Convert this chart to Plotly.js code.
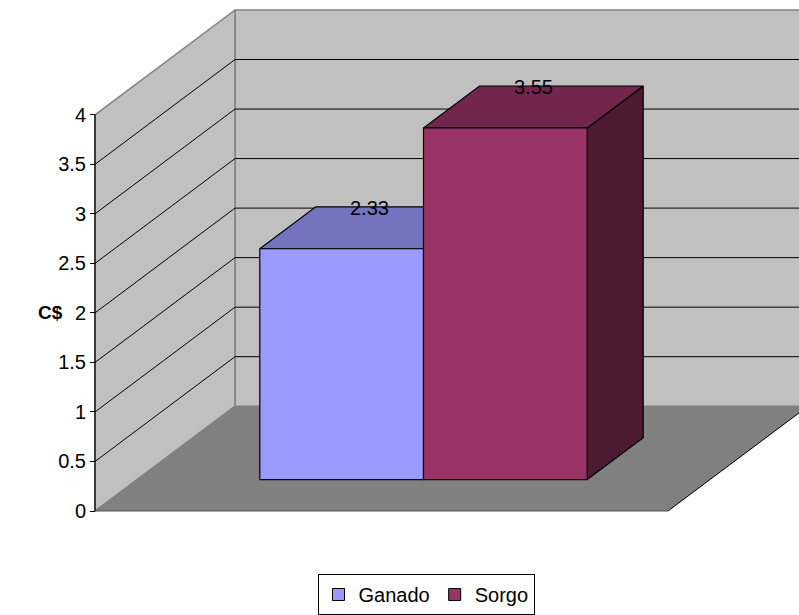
<!DOCTYPE html>
<html><head><meta charset="utf-8">
<script src="https://cdn.plot.ly/plotly-3.0.1.min.js"></script>
<style>html,body{margin:0;padding:0;background:#fff}</style>
</head><body><div id="chart" style="width:799px;height:615px"></div>
<script>
// ---- data ----
const categories = [""];
const seriesNames = ["Ganado", "Sorgo"];
const seriesValues = [2.33, 3.55];
const tickValues = [0, 0.5, 1, 1.5, 2, 2.5, 3, 3.5, 4];
const tickLabels = ["0", "0.5", "1", "1.5", "2", "2.5", "3", "3.5", "4"];
const yAxisTitle = "C$";

// ---- styles ----
const frontColors = ["#9999FF", "#993366"];
const topColors = ["#7373BF", "#73264D"];
const sideColors = ["#4D4D80", "#4D1A33"];
const FONT = "Liberation Sans, Arial, sans-serif";
const FS = 20;

// ---- oblique 3D geometry (x in px units, y in value units) ----
const PPU = 99.25;           // px per value unit
const W = 573;               // floor width in px
const DX = 140, DYpx = 105;  // depth offset in px
const DY = DYpx / PPU;
const GAP = 1.5;             // gap width (150%)
const F0 = 0.3, F1 = 0.7;    // bar depth span
const VMAX = tickValues[tickValues.length - 1];

function P(x, v, f) { return [x + f * DX, v + f * DY]; }
function poly(pts, fill, lineColor, lw) {
  const xs = pts.map(p => p[0]), ys = pts.map(p => p[1]);
  xs.push(xs[0]); ys.push(ys[0]);
  return {type: 'scatter', mode: 'lines', x: xs, y: ys, fill: 'toself', fillcolor: fill,
    line: {color: lineColor, width: lw}, hoverinfo: 'skip', showlegend: false};
}
function path(pts, color, lw) {
  return {type: 'scatter', mode: 'lines', x: pts.map(p => p[0]), y: pts.map(p => p[1]),
    line: {color: color, width: lw}, hoverinfo: 'skip', showlegend: false};
}

const traces = [];
// back wall
traces.push(poly([P(0, 0, 1), P(W, 0, 1), P(W, VMAX, 1), P(0, VMAX, 1)], "#C0C0C0", "#808080", 1.5));
// left wall
traces.push(poly([P(0, 0, 0), P(0, 0, 1), P(0, VMAX, 1), P(0, VMAX, 0)], "#C0C0C0", "#808080", 1.5));
// floor
traces.push(poly([P(0, 0, 0), P(W, 0, 0), P(W, 0, 1), P(0, 0, 1)], "#808080", "rgba(0,0,0,0)", 0));
traces.push(path([P(0, 0, 0), P(W, 0, 0)], "#555555", 1.2));
traces.push(path([P(W, 0, 0), P(W, 0, 1)], "#000000", 1));
// gridlines
tickValues.forEach(v => {
  if (v <= 0 || v >= VMAX) return;
  traces.push(path([P(0, v, 0), P(0, v, 1), P(W, v, 1)], "#000000", 1));
});
// front value axis
traces.push(path([P(0, 0, 0), P(0, VMAX, 0)], "#000000", 1.2));

// bars
const n = seriesValues.length;
const bw = W / (n + GAP);
const annotations = [];
seriesValues.forEach((v, i) => {
  const x0 = (GAP / 2 + i) * bw, x1 = x0 + bw;
  traces.push(poly([P(x1, 0, F0), P(x1, 0, F1), P(x1, v, F1), P(x1, v, F0)], sideColors[i], "#000000", 1.2));
  traces.push(poly([P(x0, v, F0), P(x1, v, F0), P(x1, v, F1), P(x0, v, F1)], topColors[i], "#000000", 1.2));
  traces.push(poly([P(x0, 0, F0), P(x1, 0, F0), P(x1, v, F0), P(x0, v, F0)], frontColors[i], "#000000", 1.2));
  const c = P((x0 + x1) / 2, v, (F0 + F1) / 2);
  annotations.push({x: c[0], y: c[1], xref: 'x', yref: 'y', text: v.toFixed(2), showarrow: false,
    xanchor: 'center', yanchor: 'middle', yshift: 20, font: {family: FONT, size: FS, color: "#000"}});
});
// legend entries
seriesNames.forEach((name, i) => {
  traces.push({type: 'scatter', mode: 'markers', x: [null], y: [null], name: name,
    marker: {symbol: 'square', size: 12, color: frontColors[i], line: {color: '#000', width: 1}}});
});

annotations.push({xref: 'paper', yref: 'paper', x: (50 - 93) / 706, y: (514 - 313) / 508,
  xanchor: 'center', yanchor: 'middle',
  text: "<b>" + yAxisTitle + "</b>", showarrow: false, font: {family: FONT, size: 19, color: "#000"}});

const layout = {
  width: 799, height: 615,
  margin: {l: 93, r: 0, t: 6, b: 101},
  paper_bgcolor: '#fff', plot_bgcolor: 'rgba(0,0,0,0)',
  font: {family: FONT, size: FS, color: '#000'},
  xaxis: {range: [-2, 704], visible: false, fixedrange: true},
  yaxis: {range: [-2 / PPU, 506 / PPU], anchor: 'free', position: 2 / 706,
    tickvals: tickValues, ticktext: tickLabels, ticks: 'outside', ticklen: 5, tickcolor: '#000',
    tickwidth: 1, showline: false, showgrid: false, zeroline: false,
    tickfont: {family: FONT, size: FS, color: '#000'}},
  showlegend: true,
  legend: {orientation: 'h', x: (426 - 93) / 706, xanchor: 'center', y: (514 - 575) / 508, yanchor: 'top',
    bordercolor: '#000', borderwidth: 1, font: {family: FONT, size: FS, color: '#000'},
    itemwidth: 30, tracegroupgap: 0},
  annotations: annotations
};
Plotly.newPlot('chart', traces, layout, {displayModeBar: false, staticPlot: true});
</script></body></html>
